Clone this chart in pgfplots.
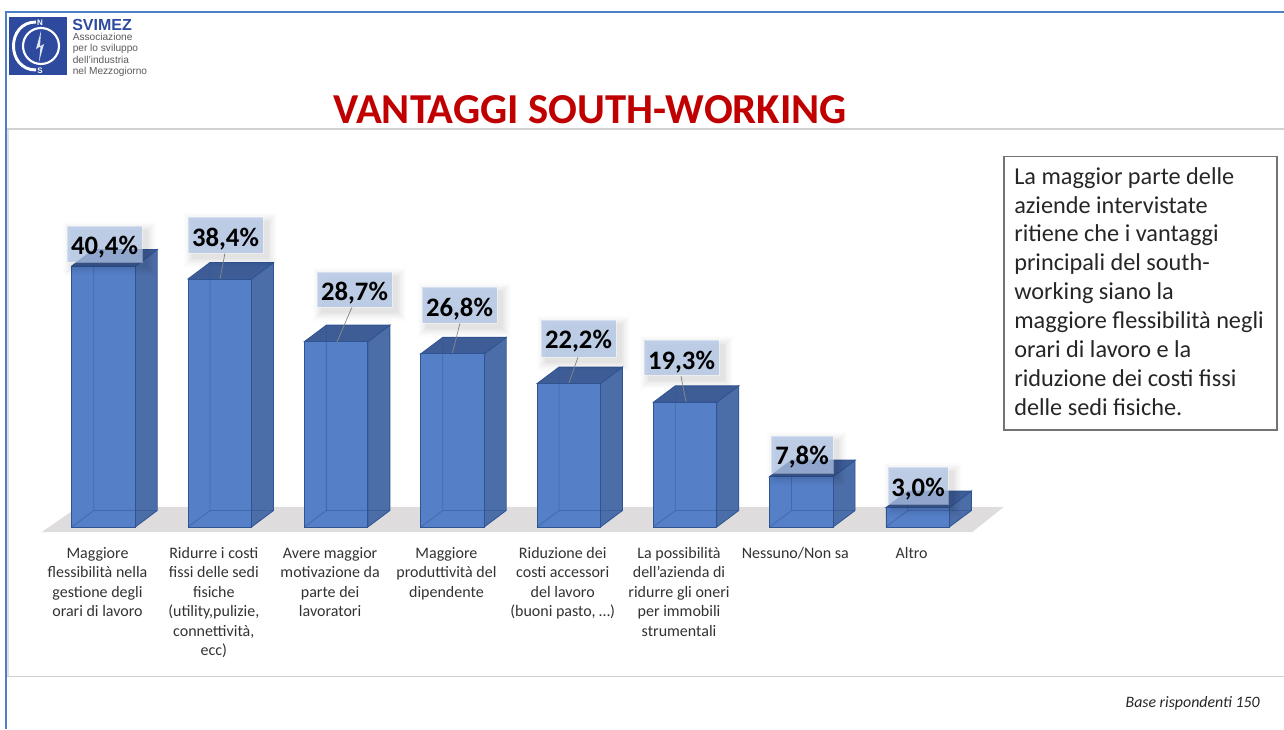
\documentclass[border=0pt]{standalone}
\usepackage{pgfplots}
\pgfplotsset{compat=1.18}
\usepackage{fontspec}
\setmainfont{Carlito}
\newfontfamily\arialf{Liberation Sans}
\definecolor{front}{RGB}{85,128,200}
\definecolor{sideC}{RGB}{76,110,168}
\definecolor{topC}{RGB}{62,93,150}
\definecolor{edgeC}{RGB}{48,84,146}
\definecolor{floorC}{RGB}{222,220,220}
\definecolor{boxC}{RGB}{176,196,230}
\definecolor{logoC}{RGB}{46,74,158}
\definecolor{frameC}{RGB}{76,128,196}
\definecolor{titleC}{RGB}{192,0,0}
\definecolor{textC}{RGB}{50,50,50}
\newcommand{\BarFaces}[2]{%
 \pgfmathsetmacro{\xl}{#1-0.273}\pgfmathsetmacro{\xr}{#1+0.273}%
 \pgfmathsetmacro{\xbr}{#1+0.273+0.189}\pgfmathsetmacro{\xbl}{#1-0.273+0.189}%
 \pgfmathsetmacro{\yb}{#2+2.55}%
 \edef\temp{\noexpand\addplot[fill=sideC,draw=edgeC,line width=0.6pt] coordinates {(\xr,0) (\xbr,2.55) (\xbr,\yb) (\xr,#2)} --cycle;
 \noexpand\addplot[fill=topC,draw=edgeC,line width=0.6pt] coordinates {(\xl,#2) (\xbl,\yb) (\xbr,\yb) (\xr,#2)} --cycle;}\temp}
\newcommand{\BarHidden}[2]{%
 \pgfmathsetmacro{\xl}{#1-0.273}\pgfmathsetmacro{\xr}{#1+0.273}%
 \pgfmathsetmacro{\xbr}{#1+0.273+0.189}\pgfmathsetmacro{\xbl}{#1-0.273+0.189}%
 \pgfmathsetmacro{\yb}{#2+2.55}%
 \edef\temp{\noexpand\addplot[draw=edgeC,line width=0.6pt,opacity=0.5] coordinates {(\xl,0) (\xbl,2.55) (\xbl,\yb)};
 \noexpand\addplot[draw=edgeC,line width=0.6pt,opacity=0.5] coordinates {(\xbl,2.55) (\xbr,2.55)};}\temp}
\newcommand{\ValBox}[6]{% x0,x1,y0,y1, text y, text
 \foreach \s/\o in {9/0.012,7/0.018,5/0.022,3/0.028,1/0.03}{
  \fill[black,opacity=\o] (#1+5-\s,#3+5-\s) rectangle (#2+5+\s,#4+5+\s);}
 \fill[boxC,opacity=0.75] (#1,#3) rectangle (#2,#4);
 \draw[white,opacity=0.35,line width=0.5pt] (#1,#3) rectangle (#2,#4);
 \node[font=\fontsize{20}{24}\selectfont\bfseries,text=black,inner sep=0pt] at ({(#1+#2)/2},#5) {#6};}
\begin{document}
\begin{tikzpicture}
\path[use as bounding box] (0,0) rectangle (963pt,546.75pt);
\begin{axis}[
 at={(0,0)},anchor=south west,
 scale only axis,width=963pt,height=546.75pt,
 xmin=-0.88995,xmax=10.15,
 ymin=-31.27,ymax=81.579,
 axis line style={draw=none},tick style={draw=none},
 ytick=\empty,
 xtick={0,1,2,3,4,5,6,7},
 xticklabels={
  {Maggiore\\flessibilità nella\\gestione degli\\orari di lavoro},
  {Ridurre i costi\\fissi delle sedi\\fisiche\\(utility,pulizie,\\connettività,\\ecc)},
  {Avere maggior\\motivazione da\\parte dei\\lavoratori},
  {Maggiore\\produttività del\\dipendente},
  {Riduzione dei\\costi accessori\\del lavoro\\(buoni pasto, …)},
  {La possibilità\\dell’azienda di\\ridurre gli oneri\\per immobili\\strumentali},
  {Nessuno/Non sa},
  {Altro}},
 x tick label style={align=center,anchor=north,yshift=136.5pt,xshift=-4.5pt,
   font=\fontsize{12}{14.6}\selectfont,text=textC,inner sep=0pt},
 clip=false]
% floor
\addplot[fill=floorC,draw=none] coordinates {(-0.53,-0.78) (-0.22,3.1) (7.74,3.1) (7.47,-0.78)} --cycle;
\BarFaces{0}{40.4}\BarFaces{1}{38.4}\BarFaces{2}{28.7}\BarFaces{3}{26.8}
\BarFaces{4}{22.2}\BarFaces{5}{19.3}\BarFaces{6}{7.8}\BarFaces{7}{3.0}
\addplot[ybar,bar width=47.6pt,bar shift=0pt,fill=front,draw=edgeC,line width=0.6pt] coordinates
 {(0,40.4) (1,38.4) (2,28.7) (3,26.8) (4,22.2) (5,19.3) (6,7.8) (7,3.0)};
\BarHidden{0}{40.4}\BarHidden{1}{38.4}\BarHidden{2}{28.7}\BarHidden{3}{26.8}
\BarHidden{4}{22.2}\BarHidden{5}{19.3}\BarHidden{6}{7.8}\BarHidden{7}{3.0}
\end{axis}
\begin{scope}[shift={(0,546.75pt)},x=0.75pt,y=-0.75pt]
% frame
\draw[black!12,line width=1.2pt] (8,129) -- (8,676);
\draw[black!18,line width=1.2pt] (7,129) -- (1284,129);
\draw[black!18,line width=1.2pt] (7,676.5) -- (1284,676.5);
\draw[frameC,line width=1.5pt] (6,729) -- (6,12) -- (1284,12);
% logo
\fill[logoC] (9,17) rectangle (67,75);
\draw[white,line width=2.2pt] (36,22) .. controls (6,22) and (6,70) .. (36,70);
\draw[white,line width=1.6pt] (41,46) circle[radius=18];
\fill[white!85!logoC] (41,31) -- (36,49) -- (40.5,46.5) -- (39,62) -- (44,44) -- (40,46.5) -- cycle;
\node[font=\arialf\bfseries\fontsize{6}{6}\selectfont,text=white,inner sep=0pt] at (40,23) {N};
\node[font=\arialf\bfseries\fontsize{6}{6}\selectfont,text=white,inner sep=0pt] at (40,71) {S};
\node[anchor=west,font=\arialf\bfseries\fontsize{12}{12}\selectfont,text=logoC,inner sep=0pt] at (72,25) {SVIMEZ};
\node[anchor=north west,align=left,font=\arialf\fontsize{7.6}{8.5}\selectfont,text=black!65,inner sep=0pt] at (72.5,33) {Associazione\\per lo sviluppo\\dell’industria\\nel Mezzogiorno};
% title
\node[font=\bfseries\fontsize{32}{38}\selectfont,text=titleC,inner sep=0pt] at (590,110) {VANTAGGI SOUTH-WORKING};
% text box
\draw[black!55,fill=white,line width=0.9pt] (1004,156.5) rectangle (1277,430);
\node[anchor=north west,align=left,font=\fontsize{18.2}{21.7}\selectfont,text=black!85,inner sep=0pt] at (1014,167) {La maggior parte delle\\aziende intervistate\\ritiene che i vantaggi\\principali del south-\\working siano la\\maggiore flessibilità negli\\orari di lavoro e la\\riduzione dei costi fissi\\delle sedi fisiche.};
% footnote
\node[anchor=east,font=\itshape\fontsize{11.9}{14}\selectfont,text=black!85,inner sep=0pt] at (1260,703) {Base rispondenti 150};
% leaders
\foreach \a/\b/\c/\d in {225/253/220/279,352/307/337/342,460/323/452.5/353,578/357/569/383,681/376/686/402}
 \draw[black!45,line width=0.5pt] (\a,\b) -- (\c,\d);
% value labels
\ValBox{67}{142}{226}{262}{247}{40,4\%}
\ValBox{188}{263}{217}{253}{239}{38,4\%}
\ValBox{317}{392}{272}{307}{293}{28,7\%}
\ValBox{422}{497}{287}{323}{309}{26,8\%}
\ValBox{541}{616}{320}{357}{341}{22,2\%}
\ValBox{644}{719}{340}{375}{362}{19,3\%}
\ValBox{771}{833}{436}{473}{457}{7,8\%}
\ValBox{888}{948}{467}{504}{489}{3,0\%}
\end{scope}
\end{tikzpicture}
\end{document}
